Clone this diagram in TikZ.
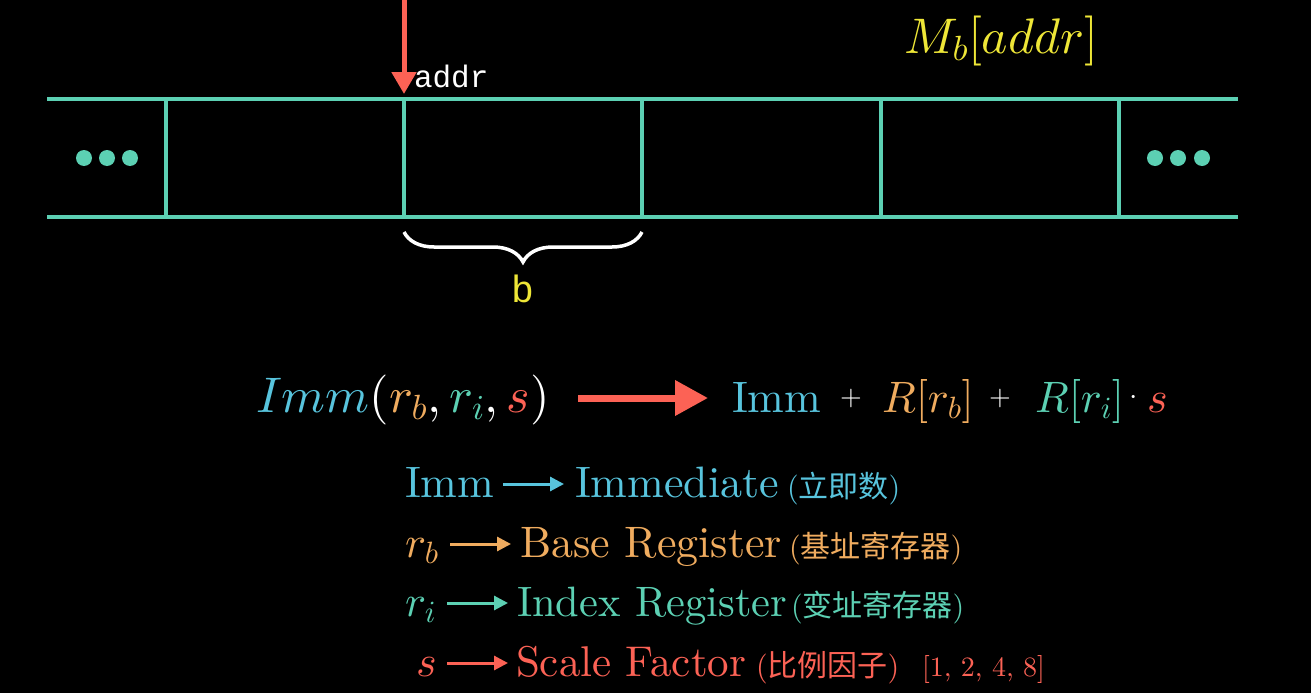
\documentclass[tikz,border=0pt]{standalone}
\usepackage{fontspec}
\setmainfont{lmroman10-regular.otf}[ItalicFont=lmroman10-italic.otf, BoldFont=lmroman10-bold.otf]
\newfontfamily\cjk{Noto Sans CJK SC}
\newfontfamily\cour{Liberation Mono}
\DeclareFontShape{OML}{cmm}{m}{it}{<->cmmi10}{}
\DeclareFontShape{OMS}{cmsy}{m}{n}{<->cmsy10}{}
\DeclareFontShape{OT1}{cmr}{m}{n}{<->cmr10}{}
\usetikzlibrary{arrows.meta,decorations.pathreplacing}
\definecolor{cblue}{HTML}{58C4DD}
\definecolor{cteal}{HTML}{5CD0B3}
\definecolor{cred}{HTML}{FC6255}
\definecolor{cgold}{HTML}{F0AC5F}
\definecolor{cyellow}{HTML}{EEE637}
\newcommand\fsz[1]{\fontsize{#1}{#1}\selectfont}
\tikzset{
  tape/.style={cteal, line width=4pt},
  tapedot/.style={circle, fill=cteal, minimum size=16pt, inner sep=0pt},
  addrarrow/.style={cred, line width=5pt, -{Triangle[length=22pt,width=24pt]}},
  fmarrow/.style={cred, line width=7pt, -{Triangle[length=33pt,width=34pt]}},
  legarrow/.style={line width=3pt, -{Triangle[length=14pt,width=14pt]}},
  bracestyle/.style={white, line width=3.5pt, decorate, decoration={brace, amplitude=30pt}},
  txt/.style={inner sep=0pt, outer sep=0pt, anchor=base west},
  big/.style={txt, font=\fsz{44}},
  bigger/.style={txt, font=\fsz{50}},
  cjkt/.style={txt, font=\fsz{30}},
}
\begin{document}
\begin{tikzpicture}[x=1pt,y=-1pt]
\fill[black] (0,0) rectangle (1311,693);
\useasboundingbox (0,0) rectangle (1311,693);
% tape
\coordinate (tl) at (47,99);
\coordinate (tr) at (1238,99);
\coordinate (bl) at (47,217);
\coordinate (br) at (1238,217);
\draw[tape] (tl) -- (tr);
\draw[tape] (bl) -- (br);
\foreach \x [count=\i] in {166,404,642,881,1119} {
  \coordinate (vt\i) at (\x,99);
  \coordinate (vb\i) at (\x,217);
  \draw[tape] (vt\i) -- (vb\i);
}
\foreach \x [count=\i] in {84,107,130} \node[tapedot] (ld\i) at (\x,158) {};
\foreach \x [count=\i] in {1155,1178,1202} \node[tapedot] (rd\i) at (\x,158) {};
% addr arrow
\coordinate (atop) at (404,-5);
\coordinate (atip) at (404,94);
\draw[addrarrow] (atop) -- (atip);
\node[txt, font=\fsz{31}\cour, white] (addr) at (414,87) {addr};
\node[bigger, cyellow] (mb) at (904,53) {$M_b[addr]$};
% brace
\coordinate (brR) at (642,232);
\coordinate (brL) at (404,232);
\draw[bracestyle] (brR) -- (brL);
\node[font=\fsz{38}\cour, cyellow, inner sep=0pt, anchor=base] (blab) at (523,302) {b};
% formula
\node[bigger] (lhs) at (256,412) {$\color{cblue}Imm\color{white}(\color{cgold}r_b\color{white},\color{cteal}r_i\color{white},\color{cred}s\color{white})$};
\coordinate (fa) at (578,398);
\coordinate (fb) at (708,398);
\draw[fmarrow] (fa) -- (fb);
\node[big, cblue] (imm2) at (732,412) {Imm};
\node[font=\fsz{28}, white, inner sep=0pt] (p1) at (851,398) {$+$};
\node[big, cgold] (rrb) at (882,412) {$R[r_b]$};
\node[font=\fsz{28}, white, inner sep=0pt] (p2) at (1000,398) {$+$};
\node[big, cteal] (rri) at (1035,412) {$R[r_i]$};
\node[font=\fsz{30}, white, inner sep=0pt] (cd) at (1134,398) {$\cdot$};
\node[big, cred] (s2) at (1147,412) {$s$};
% legend row 1
\node[big, cblue] (l1a) at (405,497) {Imm};
\coordinate (l1s) at (503,484);
\coordinate (l1e) at (564,484);
\draw[legarrow, cblue] (l1s) -- (l1e);
\node[big, cblue] (l1b) at (575,497) {Immediate};
\node[cjkt, cblue] (l1c) at (787,497) {({\cjk 立即数})};
% row 2
\node[big, cgold] (l2a) at (405,557) {$r_b$};
\coordinate (l2s) at (450,544);
\coordinate (l2e) at (511,544);
\draw[legarrow, cgold] (l2s) -- (l2e);
\node[big, cgold] (l2b) at (520,557) {Base Register};
\node[cjkt, cgold] (l2c) at (789,557) {({\cjk 基址寄存器})};
% row 3
\node[big, cteal] (l3a) at (405,616) {$r_i$};
\coordinate (l3s) at (447,603);
\coordinate (l3e) at (508,603);
\draw[legarrow, cteal] (l3s) -- (l3e);
\node[txt, font=\fsz{42.5}, cteal] (l3b) at (517,616) {Index Register};
\node[cjkt, cteal] (l3c) at (791,616) {({\cjk 变址寄存器})};
% row 4
\node[big, cred] (l4a) at (416,676) {$s$};
\coordinate (l4s) at (447,663);
\coordinate (l4e) at (508,663);
\draw[legarrow, cred] (l4s) -- (l4e);
\node[txt, font=\fsz{43}, cred] (l4b) at (516,676) {Scale Factor};
\node[cjkt, cred] (l4c) at (756,676) {({\cjk 比例因子})};
\node[txt, font=\fsz{28}, cred] (l4d) at (922,676) {[1, 2, 4, 8]};
\end{tikzpicture}
\end{document}
